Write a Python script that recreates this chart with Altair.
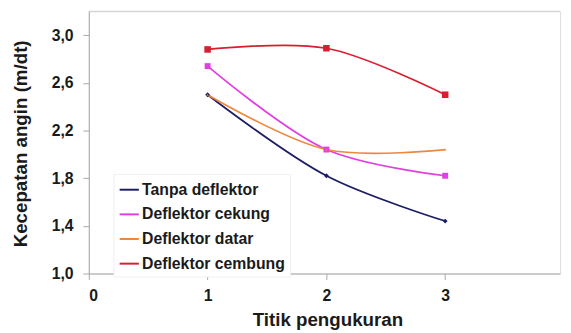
import altair as alt
import pandas as pd

points = [1, 2, 3]
series_names = ["Tanpa deflektor", "Deflektor cekung", "Deflektor datar", "Deflektor cembung"]
tanpa = [2.50, 1.82, 1.44]
cekung = [2.74, 2.04, 1.82]
datar = [2.50, 2.04, 2.04]
cembung = [2.88, 2.89, 2.50]
colors = ["#1c1c64", "#e040e0", "#f0883c", "#d81e30"]
shapes = ["diamond", "square", "triangle-up", "square"]
sizes = [24, 36, 6, 44]
y_ticks = [1.0, 1.4, 1.8, 2.2, 2.6, 3.0]
x_ticks = [0, 1, 2, 3, 4]
y_top = [3.2]

rows = []
for name, vals in zip(series_names, [tanpa, cekung, datar, cembung]):
    for p, v in zip(points, vals):
        rows.append({"Titik": p, "Kecepatan": v, "Seri": name})
df = pd.DataFrame(rows)

FONT = "Liberation Sans"
axis_style = dict(labelFont=FONT, labelFontSize=16, labelFontWeight="bold", labelColor="#1a1a1a",
                  titleFont=FONT, titleFontSize=19, titleFontWeight="bold", titleColor="#1a1a1a",
                  domainColor="#a8a8a8", tickColor="#a8a8a8", tickSize=6, grid=False)

x = alt.X("Titik:Q", scale=alt.Scale(domain=[0, 3.967], nice=False, zero=False),
          axis=alt.Axis(values=x_ticks, title="Titik pengukuran", format="d",
                        titleX=242, titleY=53, titleBaseline="alphabetic", titleAlign="center",
                        labelPadding=8, labelBound=False, labelOverlap=False, **axis_style))
y = alt.Y("Kecepatan:Q", scale=alt.Scale(domain=[1.0, 3.2], nice=False, zero=False),
          axis=alt.Axis(values=y_ticks, title="Kecepatan angin (m/dt)",
                        labelExpr="replace(format(datum.value, '.1f'), '.', ',')",
                        titleX=-63, titleY=134, titleAngle=-90, titleBaseline="alphabetic",
                        titleAlign="center", labelPadding=10, **axis_style))
cscale = alt.Scale(domain=series_names, range=colors)
color = alt.Color("Seri:N", sort=series_names, scale=cscale,
                  legend=alt.Legend(title=None, orient="none", legendX=25, legendY=165,
                                    symbolType="stroke", symbolStrokeWidth=2, symbolSize=380,
                                    labelFont=FONT, labelFontSize=16, labelFontWeight="bold",
                                    labelColor="#1a1a1a", rowPadding=6, fillColor="white",
                                    strokeColor="#f0f0f0", padding=5, labelOffset=2))

top_border = alt.Chart(pd.DataFrame({"Kecepatan": y_top})).mark_rule(
    color="#d0d0d0", strokeWidth=1).encode(y=alt.Y("Kecepatan:Q"))

lines = alt.Chart(df).mark_line(interpolate="catmull-rom", strokeWidth=1.7).encode(
    x=x, y=y, color=color)

layers = [top_border, lines]
for name, shp, sz in zip(series_names, shapes, sizes):
    layers.append(
        alt.Chart(df).transform_filter(alt.datum.Seri == name)
        .mark_point(filled=True, opacity=1, shape=shp, size=sz)
        .encode(x=x, y=y, color=alt.Color("Seri:N", sort=series_names, scale=cscale, legend=None))
    )

chart = alt.layer(*layers).properties(
    width=478, height=266,
    autosize=alt.AutoSizeParams(type="none"),
    padding={"left": 82, "top": 1, "right": 3, "bottom": 57},
).configure_view(strokeWidth=0).configure(background="white")

chart.save("out.html", embed_options={"renderer": "svg", "actions": False})
